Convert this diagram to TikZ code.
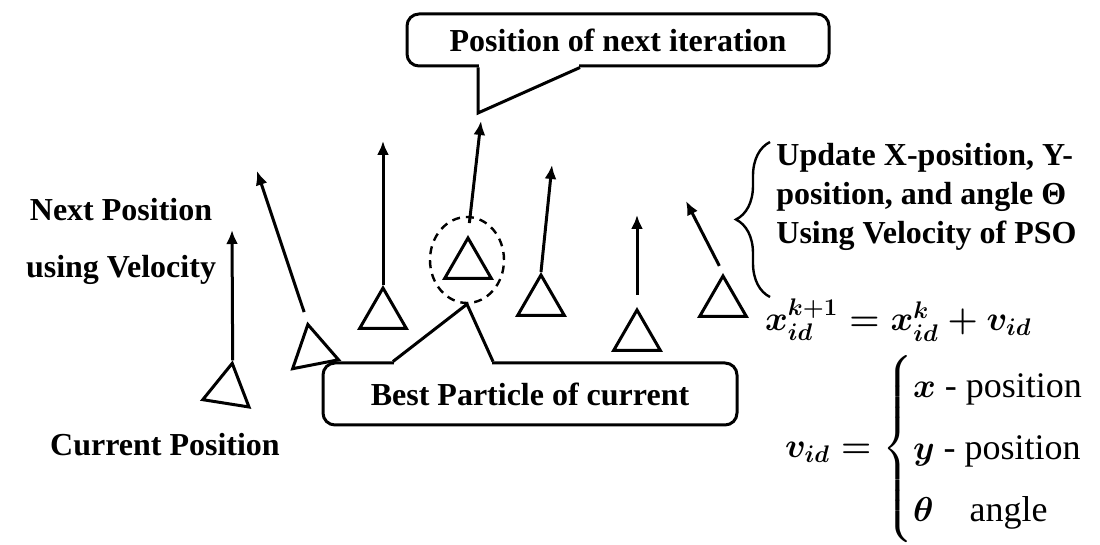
\documentclass[tikz,border=0pt]{standalone}
\usepackage{amsmath}
\usepackage{fontspec}
\setmainfont{Liberation Serif}
\usetikzlibrary{positioning,shapes.geometric,arrows.meta,decorations.pathreplacing,calc}

\begin{document}
\begin{tikzpicture}[x=0.5pt, y=-0.5pt,
    particle/.style={draw, regular polygon, regular polygon sides=3, minimum size=27pt, inner sep=0pt, line width=1.5pt},
    velocity/.style={line width=1.5pt, -{Latex[length=7pt,width=6pt]}},
    bubble/.style={draw, rounded corners=6pt, line width=1.5pt, fill=white, font=\fontsize{16}{19}\selectfont\bfseries},
    leg/.style={line width=1.5pt},
    lbl/.style={font=\fontsize{16}{19.5}\selectfont\bfseries, inner sep=0pt},
    formula/.style={anchor=west, font=\fontsize{18}{22}\selectfont\boldmath}]
    \useasboundingbox (0,0) rectangle (1100,545);

    \node (particle1) [particle, shape border rotate=-9] at (228,390) {};
    \node (particle2) [particle, shape border rotate=11] at (313,351) {};
    \node (particle3) [particle] at (383,315) {};
    \node (particle4) [particle] at (468,265) {};
    \node (particle5) [particle] at (541,302) {};
    \node (particle6) [particle] at (637,337) {};
    \node (particle7) [particle] at (723,303) {};
    \node (best) [draw, ellipse, dash pattern=on 4pt off 3pt, line width=1.2pt, minimum width=37pt, minimum height=43pt, inner sep=0pt] at (467,260) {};

    \coordinate (next1) at (232,230);
    \coordinate (next2) at (257,171);
    \coordinate (next3) at (383,141);
    \coordinate (next4) at (481,121);
    \coordinate (next5) at (552,165);
    \coordinate (next6) at (637,215);
    \coordinate (next7) at (686,201);

    \draw [velocity] (particle1.corner 1) -- (next1);
    \draw [velocity, shorten <=5pt] (particle2.corner 1) -- (next2);
    \draw [velocity] (particle3.corner 1) -- (next3);
    \draw [velocity, shorten <=6pt] (particle4.corner 1) -- (next4);
    \draw [velocity] (particle5.corner 1) -- (next5);
    \draw [velocity, shorten <=6pt] (particle6.corner 1) -- (next6);
    \draw [velocity, shorten <=4pt] (particle7.corner 1) -- (next7);

    \node (nextiter) [bubble, minimum width=211pt, minimum height=26pt] at (618,40) {Position of next iteration};
    \coordinate (nexttip) at (478,113);
    \coordinate (nexta) at (nextiter.south -| nexttip);
    \coordinate (nextb) at ($(nextiter.south)+(-38,0)$);
    \fill [white] ($(nexta)+(1,-4)$) rectangle ($(nextb)+(-1,4)$);
    \draw [leg] (nexta) -- (nexttip) -- (nextb);

    \node (bestcur) [bubble, minimum width=207pt, minimum height=31pt] at (530,394) {Best Particle of current};
    \coordinate (besta) at ($(bestcur.north)+(-137,0)$);
    \coordinate (bestb) at ($(bestcur.north)+(-37,0)$);
    \fill [white] ($(besta)+(1,-4)$) rectangle ($(bestb)+(-1,4)$);
    \draw [leg] (besta) -- (best.south) -- (bestb);

    \node (nextpos) [lbl, align=center] at (121,241) {Next Position\\[9pt]using Velocity};
    \node (current) [lbl] at (165,445) {Current Position};

    \node (update) [lbl, align=left, anchor=west] at (776,197) {Update X-position, Y-\\position, and angle Θ\\Using Velocity of PSO};
    \coordinate (bracelow) at (770,297);
    \coordinate (bracehigh) at (770,142);
    \draw [line width=1.2pt, decorate, decoration={brace, amplitude=17pt}] (bracelow) -- (bracehigh);

    \node (updateeq) [formula, font=\fontsize{17}{21}\selectfont\boldmath] at (758,320) {$x_{id}^{k+1} = x_{id}^{k} + v_{id}$};
    \node (veleq) [formula] at (778,449) {$v_{id} = \begin{cases} x\text{ - position}\\[4.5pt] y\text{ - position}\\[4.5pt] \theta\quad\text{angle}\end{cases}$};
\end{tikzpicture}
\end{document}
